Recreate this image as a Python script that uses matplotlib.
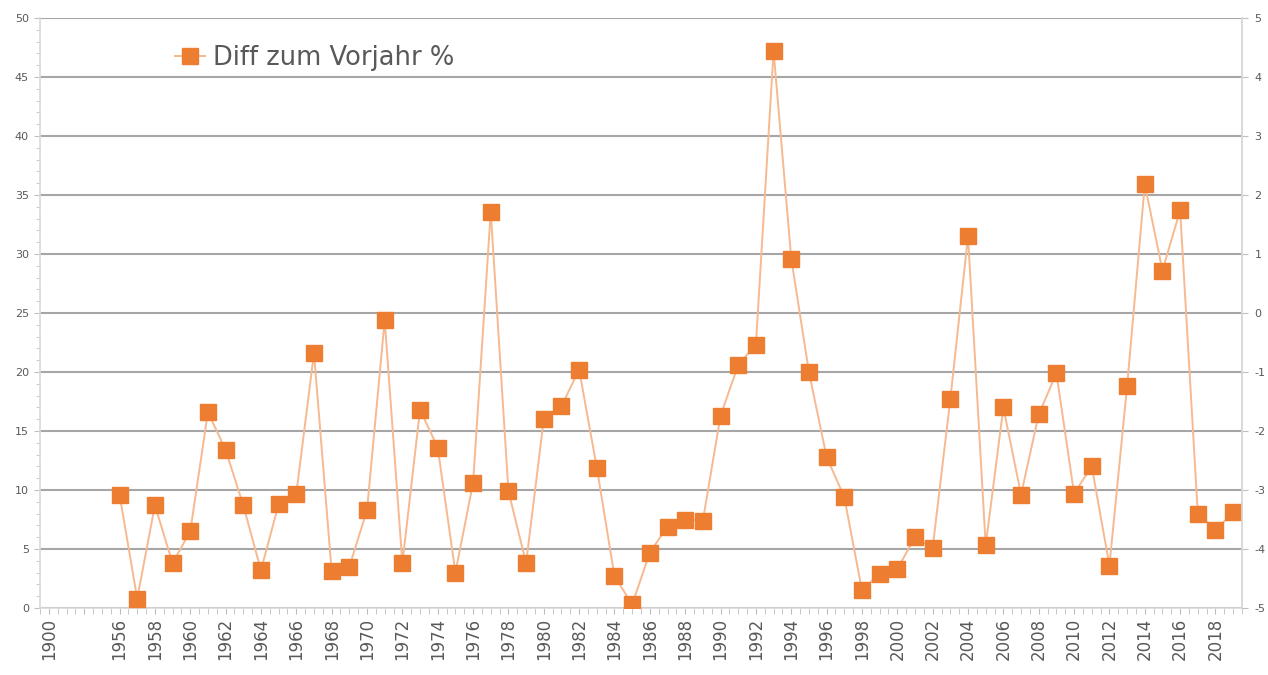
import matplotlib
matplotlib.use("Agg")
import matplotlib.pyplot as plt
import numpy as np

plt.rcParams["axes.unicode_minus"] = False

# ---- data ----
categories = ["1900", "", "", ""] + [str(y) for y in range(1956, 2020)]
diff_years = list(range(1956, 2020))
diff_values = [
    9.6, 0.8, 8.7, 3.8, 6.5, 16.6, 13.4, 8.7, 3.2, 8.8,      # 1956-1965
    9.7, 21.6, 3.1, 3.5, 8.3, 24.4, 3.8, 16.8, 13.6, 3.0,    # 1966-1975
    10.6, 33.6, 9.9, 3.8, 16.0, 17.1, 20.2, 11.9, 2.7, 0.3,  # 1976-1985
    4.7, 6.9, 7.5, 7.4, 16.3, 20.6, 22.3, 47.2, 29.6, 20.0,  # 1986-1995
    12.8, 9.4, 1.5, 2.9, 3.3, 6.0, 5.1, 17.7, 31.5, 5.3,     # 1996-2005
    17.0, 9.6, 16.4, 19.9, 9.7, 12.0, 3.6, 18.8, 35.9, 28.6, # 2006-2015
    33.7, 8.0, 6.6, 8.1,                                     # 2016-2019
]
series_label = "Diff zum Vorjahr %"
left_ticks = list(range(0, 51, 5))
right_ticks = list(range(-5, 6, 1))

# ---- figure ----
fig = plt.figure(figsize=(12.68, 6.75), dpi=100)
ax = fig.add_axes([40 / 1268, 1 - 608 / 675, (1242 - 40) / 1268, (608 - 18) / 675])

xpos = [categories.index(str(y)) for y in diff_years]
ax.plot(xpos, diff_values, color="#F6B990", lw=1.4, marker="s", markersize=11,
        markerfacecolor="#ED7D31", markeredgecolor="#ED7D31", label=series_label, zorder=3)

ax.set_xlim(-0.5, len(categories) - 0.5)
ax.set_ylim(0, 50)

# grid
ax.set_yticks(left_ticks)
ax.set_yticks(np.arange(0, 51, 1), minor=True)
ax.yaxis.grid(True, which="major", color="#A6A6A6", lw=1.5)
ax.set_axisbelow(True)

ax.set_xticks(range(0, len(categories), 2))
ax.set_xticklabels([categories[i] for i in range(0, len(categories), 2)], rotation=90,
                   fontsize=12, color="#595959")
ax.set_xticks(np.arange(-0.5, len(categories), 0.5), minor=True)
ax.tick_params(axis="x", which="both", length=4, color="#BFBFBF", direction="out", pad=3)
ax.tick_params(axis="y", which="major", length=4, color="#BFBFBF", labelsize=8,
               labelcolor="#595959", pad=4)
ax.tick_params(axis="y", which="minor", length=3, color="#BFBFBF")

ax.spines["top"].set_visible(False)
for s in ["left", "bottom", "right"]:
    ax.spines[s].set_color("#D9D9D9")
    ax.spines[s].set_linewidth(1.2)

ax2 = ax.twinx()
ax2.set_ylim(-5, 5)
ax2.set_yticks(right_ticks)
ax2.tick_params(axis="y", length=4, color="#BFBFBF", labelsize=8, labelcolor="#595959", pad=5)
for s in ["top", "left", "bottom"]:
    ax2.spines[s].set_visible(False)
ax2.spines["right"].set_color("#D9D9D9")
ax2.spines["right"].set_linewidth(1.2)

leg = ax.legend(loc="upper left", bbox_to_anchor=(0.112, 0.955), frameon=False,
                fontsize=18.5, handlelength=1.2, handletextpad=0.3, borderaxespad=0,
                borderpad=0)
for t in leg.get_texts():
    t.set_color("#595959")

fig.savefig("out.png", dpi=100, facecolor="white")
